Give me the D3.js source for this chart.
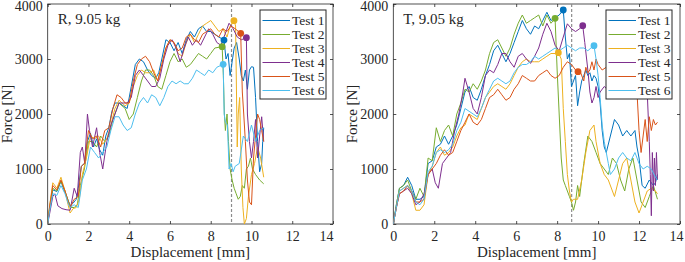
<!DOCTYPE html>
<html>
<head>
<meta charset="utf-8">
<script src="https://cdn.jsdelivr.net/npm/d3@7"></script>
<style>
body { margin: 0; background: #fff; }
text { font-family: "Liberation Serif", "Times New Roman", serif; fill: #262626; }
</style>
</head>
<body>
<svg id="chart" width="685" height="262"></svg>
<script>
// ---- data: [displacement mm, force N] ----
var testNames = ["Test 1", "Test 2", "Test 3", "Test 4", "Test 5", "Test 6"];
var testColors = ["#0072BD", "#77AC30", "#EDB120", "#7E2F8E", "#D95319", "#4DBEEE"];
var xTicks = [0, 2, 4, 6, 8, 10, 12, 14];
var yTicks = [0, 1000, 2000, 3000, 4000];

// R panel
var rTest1 = [[0,0],[0.1,300],[0.25,620],[0.45,590],[0.65,780],[0.8,620],[0.95,480],[1.1,330],[1.25,380],[1.4,450],[1.5,650],[1.65,1050],[1.8,1100],[1.95,1500],[2.1,1650],[2.25,1400],[2.4,1550],[2.55,1350],[2.7,1250],[2.85,1600],[3.0,1750],[3.15,2050],[3.3,2200],[3.5,2200],[3.7,2150],[3.9,2100],[4.1,2500],[4.3,2900],[4.5,3000],[4.7,2950],[4.9,2800],[5.1,2700],[5.3,2650],[5.45,2750],[5.6,3000],[5.8,3350],[6.0,3300],[6.2,3150],[6.4,3300],[6.6,3100],[6.8,3350],[7.0,3500],[7.2,3400],[7.4,3550],[7.6,3600],[7.8,3500],[8.0,3500],[8.2,3450],[8.4,3400],[8.65,3345],[8.75,3000],[8.85,3100],[8.95,2700],[9.05,2950],[9.15,3200],[9.27,3300],[9.4,3000],[9.5,2700],[9.6,2600],[9.7,2800],[9.8,2450],[9.9,2800],[10.0,2860],[10.1,2850],[10.2,2300],[10.3,1500],[10.4,950],[10.5,1100],[10.55,1500],[10.6,1750]];
var rTest2 = [[0,0],[0.1,300],[0.25,650],[0.45,600],[0.65,780],[0.85,600],[1.0,430],[1.15,300],[1.3,300],[1.45,350],[1.6,700],[1.8,1000],[2.0,1500],[2.2,1500],[2.4,1400],[2.6,1600],[2.8,1500],[3.0,1600],[3.2,1900],[3.5,2200],[3.8,2100],[4.0,1900],[4.2,2000],[4.4,2300],[4.6,2600],[4.8,2800],[5.0,2800],[5.2,2700],[5.4,2500],[5.6,2450],[5.8,2700],[6.0,2950],[6.2,3100],[6.4,2950],[6.6,3000],[6.8,2850],[7.0,2900],[7.2,3000],[7.4,3100],[7.6,3050],[7.8,3000],[8.0,3100],[8.2,3200],[8.56,3224],[8.62,2700],[8.67,2000],[8.72,1700],[8.8,2000],[8.87,1500],[8.95,1000],[9.05,800],[9.15,650],[9.25,550],[9.35,450],[9.45,500],[9.55,700],[9.65,650],[9.75,1000],[9.85,1050],[9.95,1200],[10.05,1000],[10.2,900],[10.4,800],[10.6,730]];
var rTest3 = [[0,0],[0.1,350],[0.25,750],[0.45,650],[0.65,850],[0.85,600],[1.0,350],[1.1,200],[1.25,280],[1.4,300],[1.55,450],[1.7,900],[1.9,1200],[2.1,1600],[2.3,1550],[2.5,1600],[2.7,1450],[2.9,1550],[3.1,1800],[3.3,2100],[3.5,2250],[3.8,2150],[4.0,2200],[4.2,2500],[4.4,2700],[4.6,2800],[4.8,2750],[5.0,2750],[5.2,2800],[5.4,2600],[5.6,2900],[5.8,3200],[6.0,3350],[6.2,3300],[6.4,3100],[6.6,3050],[6.8,3300],[7.0,3450],[7.2,3300],[7.4,3450],[7.6,3600],[7.8,3650],[8.0,3700],[8.2,3600],[8.4,3500],[8.6,3550],[8.8,3400],[8.95,3600],[9.14,3697],[9.22,3600],[9.3,1400],[9.35,2000],[9.42,2300],[9.5,1000],[9.58,300],[9.65,0],[9.75,100],[9.85,500],[10.0,900],[10.15,1100],[10.3,1400],[10.45,1200],[10.6,850]];
var rTest4 = [[0,0],[0.1,200],[0.25,500],[0.35,550],[0.5,330],[0.7,280],[0.9,260],[1.1,250],[1.3,650],[1.45,500],[1.6,1300],[1.7,1400],[1.82,1100],[1.95,2000],[2.05,1700],[2.2,1400],[2.4,1750],[2.55,1300],[2.7,1000],[2.9,1500],[3.1,1800],[3.3,2000],[3.5,2200],[3.7,2200],[3.9,2200],[4.1,2300],[4.3,2700],[4.5,2800],[4.7,2700],[4.9,2600],[5.1,2500],[5.3,2500],[5.5,2650],[5.7,3000],[5.9,3250],[6.1,3350],[6.3,3200],[6.5,2950],[6.7,3200],[6.9,3400],[7.1,3250],[7.3,3350],[7.5,3250],[7.7,3400],[7.9,3550],[8.1,3450],[8.3,3300],[8.5,3250],[8.7,3450],[8.9,3650],[9.1,3550],[9.3,3400],[9.5,3350],[9.75,3388],[9.8,2000],[9.9,1500],[10.0,1200],[10.1,1500],[10.2,1900],[10.3,1200],[10.4,1600],[10.5,1950],[10.6,1500]];
var rTest5 = [[0,0],[0.1,330],[0.25,700],[0.45,620],[0.65,800],[0.85,600],[1.0,420],[1.1,300],[1.3,450],[1.5,500],[1.65,1050],[1.8,1100],[2.0,1700],[2.2,1550],[2.4,1600],[2.6,1400],[2.8,1700],[3.0,1750],[3.2,2100],[3.4,2350],[3.6,2300],[3.8,2200],[4.0,2200],[4.2,2600],[4.4,2900],[4.6,3000],[4.8,3050],[5.0,2950],[5.2,2750],[5.4,2600],[5.6,2900],[5.8,3200],[6.0,3350],[6.2,3300],[6.4,3150],[6.6,3200],[6.8,3400],[7.0,3450],[7.2,3350],[7.4,3300],[7.6,3450],[7.8,3500],[8.0,3550],[8.2,3450],[8.4,3400],[8.6,3550],[8.8,3500],[9.0,3600],[9.2,3550],[9.47,3467],[9.55,2400],[9.62,2000],[9.7,1500],[9.8,800],[9.9,400],[10.0,350],[10.1,1200],[10.2,1600],[10.3,2000],[10.4,1900],[10.5,1700],[10.6,1500]];
var rTest6 = [[0,0],[0.1,250],[0.25,550],[0.45,520],[0.65,700],[0.85,550],[1.0,380],[1.1,300],[1.3,350],[1.5,300],[1.7,800],[1.9,1000],[2.1,1400],[2.3,1300],[2.5,1200],[2.7,1300],[2.9,1400],[3.1,1700],[3.3,1950],[3.5,1950],[3.7,1800],[3.9,1700],[4.1,1750],[4.3,2000],[4.5,2200],[4.7,2300],[4.9,2200],[5.1,2350],[5.3,2300],[5.5,2150],[5.7,2300],[5.9,2500],[6.1,2600],[6.3,2550],[6.5,2600],[6.7,2550],[6.9,2550],[7.1,2650],[7.3,2800],[7.5,2750],[7.7,2700],[7.9,2800],[8.1,2750],[8.3,2850],[8.61,2903],[8.66,2000],[8.72,1850],[8.82,1800],[8.9,1000],[9.0,1100],[9.1,950],[9.2,1050],[9.4,1100],[9.6,1600],[9.8,1500],[10.0,1800],[10.2,1500],[10.4,1700],[10.6,1750]];
var rPeakX = [8.65, 8.56, 9.14, 9.75, 9.47, 8.61];
var rPeakY = [3345, 3224, 3697, 3388, 3467, 2903];
var rCut = 9.02;

// T panel
var tTest1 = [[0,0],[0.15,350],[0.3,650],[0.5,700],[0.7,850],[0.9,700],[1.1,450],[1.3,450],[1.5,500],[1.7,1100],[1.9,1150],[2.1,1400],[2.3,1450],[2.5,1600],[2.7,1450],[2.9,1600],[3.1,1800],[3.3,2100],[3.5,2400],[3.7,2500],[3.9,2300],[4.1,2250],[4.3,2450],[4.5,2700],[4.7,2900],[4.9,3150],[5.1,3250],[5.3,3100],[5.5,2950],[5.7,3100],[5.9,3300],[6.1,3500],[6.3,3700],[6.5,3550],[6.7,3450],[6.9,3600],[7.1,3550],[7.3,3700],[7.5,3850],[7.7,3700],[7.9,3750],[8.1,3800],[8.3,3891],[8.4,3400],[8.5,3000],[8.6,3100],[8.7,2500],[8.8,2600],[8.9,2700],[9.0,2150],[9.1,2400],[9.2,2600],[9.3,2700],[9.4,2800],[9.5,2700],[9.6,2750],[9.7,2600],[9.8,2700],[9.9,2650],[10.0,2500],[10.1,2200],[10.2,1700],[10.3,1400],[10.4,1300],[10.6,1600],[10.8,1900],[11.0,1800],[11.2,1600],[11.4,1700],[11.6,1600],[11.8,1700],[11.9,1400],[12.0,1200],[12.15,700],[12.3,650],[12.5,800],[12.7,700],[12.8,750],[12.9,900]];
var tTest2 = [[0,0],[0.15,350],[0.3,650],[0.5,700],[0.7,800],[0.9,600],[1.1,450],[1.3,650],[1.5,500],[1.7,1200],[1.9,1150],[2.1,1750],[2.3,1500],[2.5,1700],[2.7,1800],[2.9,1600],[3.1,2000],[3.3,2200],[3.5,2450],[3.7,2400],[3.9,2550],[4.1,2450],[4.3,2600],[4.5,2800],[4.7,3100],[4.9,3300],[5.1,3350],[5.3,3200],[5.5,3050],[5.7,3200],[5.9,3450],[6.1,3650],[6.3,3800],[6.5,3650],[6.7,3700],[6.9,3750],[7.1,3800],[7.3,3600],[7.5,3800],[7.7,3650],[7.9,3740],[8.0,2800],[8.1,2000],[8.2,1200],[8.3,800],[8.4,700],[8.5,600],[8.6,500],[8.7,400],[8.8,250],[8.9,400],[9.0,700],[9.1,500],[9.3,1100],[9.5,1600],[9.7,1500],[9.9,1300],[10.1,1100],[10.3,1000],[10.5,900],[10.7,1200],[10.9,1100],[11.1,800],[11.3,600],[11.5,1000],[11.7,1200],[11.9,800],[12.1,400],[12.3,300],[12.5,500],[12.7,700],[12.9,450]];
var tTest3 = [[0,0],[0.15,300],[0.3,600],[0.5,650],[0.7,700],[0.9,550],[1.1,250],[1.3,250],[1.5,350],[1.7,900],[1.9,1050],[2.1,1300],[2.3,1400],[2.5,1250],[2.7,1300],[2.9,1400],[3.1,1600],[3.3,1750],[3.5,1800],[3.7,2000],[3.9,1950],[4.1,1900],[4.3,2100],[4.5,2300],[4.7,2400],[4.9,2500],[5.1,2550],[5.3,2500],[5.5,2450],[5.7,2550],[5.9,2700],[6.1,2850],[6.3,2950],[6.5,3000],[6.7,2950],[6.9,2950],[7.1,2950],[7.3,3000],[7.5,3050],[7.7,3100],[7.9,3100],[8.06,3115],[8.2,3000],[8.3,2100],[8.4,1500],[8.5,900],[8.6,600],[8.7,400],[8.8,450],[9.0,450],[9.2,800],[9.4,1300],[9.6,1700],[9.8,1800],[9.9,1500],[10.1,1100],[10.3,900],[10.5,800],[10.7,600],[10.8,500],[11.0,800],[11.2,1100],[11.4,1200],[11.6,800],[11.8,400],[12.0,200],[12.2,400],[12.4,600],[12.6,650],[12.8,600],[12.9,550]];
var tTest4 = [[0,0],[0.15,300],[0.3,550],[0.5,600],[0.7,650],[0.9,550],[1.1,350],[1.3,400],[1.5,550],[1.7,900],[1.9,1000],[2.05,750],[2.2,650],[2.4,1100],[2.6,1200],[2.8,1300],[3.0,1700],[3.2,2000],[3.4,2400],[3.5,2650],[3.7,2400],[3.9,2100],[4.1,2000],[4.3,2300],[4.5,2700],[4.7,2800],[4.9,2750],[5.1,2900],[5.3,3100],[5.5,3100],[5.7,2950],[5.9,2850],[6.1,3050],[6.3,3100],[6.5,3000],[6.7,2920],[6.9,3050],[7.1,3200],[7.3,3450],[7.5,3650],[7.7,3500],[7.9,3250],[8.1,3150],[8.3,3400],[8.5,3640],[8.7,3550],[8.9,3500],[9.1,3550],[9.25,3606],[9.35,3300],[9.5,2800],[9.6,2400],[9.7,2200],[9.8,2300],[9.9,2500],[10.0,2300],[10.1,2400],[10.3,2500],[10.6,2400],[11.0,2500],[11.5,2600],[12.0,2500],[12.4,2400],[12.5,1500],[12.55,900],[12.6,150],[12.65,1300],[12.7,600],[12.75,1200],[12.8,700],[12.85,1300],[12.9,800]];
var tTest5 = [[0,0],[0.15,300],[0.3,550],[0.5,600],[0.7,700],[0.9,600],[1.1,400],[1.3,400],[1.5,450],[1.7,900],[1.9,1000],[2.1,1100],[2.3,1250],[2.5,1350],[2.7,1250],[2.9,1300],[3.1,1500],[3.3,1700],[3.5,1850],[3.7,2000],[3.9,1850],[4.1,1800],[4.3,1900],[4.5,2100],[4.7,2300],[4.9,2350],[5.1,2450],[5.3,2350],[5.5,2250],[5.7,2300],[5.9,2450],[6.1,2550],[6.3,2700],[6.5,2650],[6.7,2600],[6.9,2600],[7.1,2700],[7.3,2750],[7.5,2800],[7.7,2700],[7.9,2650],[8.1,2700],[8.3,2850],[8.5,2950],[8.7,2900],[8.9,2800],[9.02,2770],[9.1,2800],[9.3,2600],[9.4,2850],[9.5,2750],[9.6,2800],[9.7,2950],[9.8,2800],[9.9,3000],[10.0,2900],[10.2,2800],[10.4,2850],[10.8,2800],[11.2,2750],[11.6,2700],[11.9,2400],[12.0,1700],[12.1,1300],[12.2,1600],[12.3,1900],[12.4,1500],[12.5,1950],[12.6,1700],[12.7,1900],[12.8,1800],[12.9,1850]];
var tTest6 = [[0,0],[0.15,300],[0.3,600],[0.5,650],[0.7,700],[0.9,600],[1.1,400],[1.3,350],[1.5,450],[1.7,950],[1.9,1050],[2.1,1300],[2.3,1350],[2.5,1300],[2.7,1350],[2.9,1450],[3.1,1700],[3.3,1850],[3.5,2100],[3.7,2050],[3.9,2000],[4.1,1950],[4.3,2100],[4.5,2300],[4.7,2450],[4.9,2600],[5.1,2650],[5.3,2600],[5.5,2550],[5.7,2600],[5.9,2750],[6.1,2850],[6.3,2900],[6.5,2900],[6.7,2950],[6.9,3050],[7.1,3000],[7.3,3050],[7.5,3100],[7.7,3150],[7.9,3200],[8.1,3150],[8.3,3200],[8.5,3250],[8.7,3200],[8.9,3150],[9.1,3200],[9.3,3200],[9.5,3150],[9.65,3200],[9.8,3243],[9.9,3000],[10.0,2700],[10.1,2300],[10.2,1800],[10.3,1500],[10.4,1300],[10.5,1100],[10.6,900],[10.8,1000],[11.0,1200],[11.2,1300],[11.4,1200],[11.6,1150],[11.8,1300],[12.0,1100],[12.2,1000],[12.4,1050],[12.6,1000],[12.8,850],[12.9,800]];
var tPeakX = [8.30, 7.90, 8.06, 9.25, 9.02, 9.80];
var tPeakY = [3891, 3740, 3115, 3606, 2770, 3243];
var tCut = 8.71;

// ---- drawing ----
var svg = d3.select("#chart");
var serif = "'Liberation Serif', 'Times New Roman', serif";

function drawPanel(id, box, label, series, peakX, peakY, cutX) {
    var x = d3.scaleLinear().domain([0, 14]).range([box.left, box.right]);
    var y = d3.scaleLinear().domain([0, 4000]).range([box.bottom, box.top]);
    var g = svg.append("g").attr("id", id);

    g.append("clipPath").attr("id", id + "-clip")
        .append("rect")
        .attr("x", box.left).attr("y", box.top)
        .attr("width", box.right - box.left).attr("height", box.bottom - box.top);

    // ticks inside, on all four sides (matlab box style)
    var xAx = g.append("g")
        .attr("transform", "translate(0," + box.bottom + ")")
        .call(d3.axisBottom(x).tickValues(xTicks).tickSizeInner(-3).tickSizeOuter(0).tickPadding(7).tickFormat(d3.format("d")));
    var yAx = g.append("g")
        .attr("transform", "translate(" + box.left + ",0)")
        .call(d3.axisLeft(y).tickValues(yTicks).tickSizeInner(-3).tickSizeOuter(0).tickPadding(5).tickFormat(d3.format("d")));
    g.append("g")
        .attr("transform", "translate(0," + box.top + ")")
        .call(d3.axisTop(x).tickValues(xTicks).tickSizeInner(-3).tickSizeOuter(0).tickFormat(""));
    g.append("g")
        .attr("transform", "translate(" + box.right + ",0)")
        .call(d3.axisRight(y).tickValues(yTicks).tickSizeInner(-3).tickSizeOuter(0).tickFormat(""));

    g.selectAll(".domain").remove();
    g.selectAll(".tick line").attr("stroke", "#262626").attr("stroke-width", 0.8);
    g.selectAll(".tick text")
        .attr("fill", "#262626")
        .style("font-family", serif)
        .style("font-size", "14px");
    // last x label is pulled in so it stays on the page
    xAx.selectAll(".tick text").filter(d => d === 14)
        .attr("text-anchor", "end").attr("x", box.lastDx);
    // top y label nudged down so it is not cut at the page edge
    yAx.selectAll(".tick text").filter(d => d === 4000)
        .attr("dy", "0.45em");

    g.append("rect")
        .attr("x", box.left).attr("y", box.top)
        .attr("width", box.right - box.left).attr("height", box.bottom - box.top)
        .attr("fill", "none").attr("stroke", "#262626").attr("stroke-width", 0.8);

    // axis titles
    g.append("text")
        .attr("x", (box.left + box.right) / 2).attr("y", 257)
        .attr("text-anchor", "middle").style("font-size", "15px")
        .text("Displacement [mm]");
    g.append("text")
        .attr("transform", "rotate(-90)")
        .attr("x", -(box.top + box.bottom) / 2).attr("y", box.left - 36)
        .attr("text-anchor", "middle").style("font-size", "15px")
        .text("Force [N]");

    var plot = g.append("g").attr("clip-path", "url(#" + id + "-clip)");

    // dashed vertical reference line
    plot.append("line")
        .attr("x1", x(cutX)).attr("x2", x(cutX))
        .attr("y1", box.top).attr("y2", box.bottom)
        .attr("stroke", "#8c8c8c").attr("stroke-width", 1.2)
        .attr("stroke-dasharray", "3,2");

    var line = d3.line().x(d => x(d[0])).y(d => y(d[1]));
    series.forEach(function(s, i) {
        plot.append("path")
            .datum(s)
            .attr("d", line)
            .attr("fill", "none")
            .attr("stroke", testColors[i])
            .attr("stroke-width", 1)
            .attr("stroke-linejoin", "round");
    });

    plot.selectAll(".peak")
        .data(peakX)
        .enter()
        .append("circle")
            .classed("peak", true)
            .attr("cx", d => x(d))
            .attr("cy", (d, i) => y(peakY[i]))
            .attr("r", 3.4)
            .attr("fill", (d, i) => testColors[i]);

    g.append("text")
        .attr("x", box.left + 10).attr("y", 24)
        .style("font-size", "15px")
        .text(label);

    // legend (white box hides the lines under it)
    var lg = g.append("g").attr("transform", "translate(" + (box.right - box.legendGap - 66) + ",10)");
    lg.append("rect")
        .attr("width", 66).attr("height", 89)
        .attr("fill", "#fff").attr("stroke", "#262626").attr("stroke-width", 1);
    testNames.forEach(function(n, i) {
        var yy = 10.5 + i * 14;
        lg.append("line")
            .attr("x1", 2.5).attr("x2", 30)
            .attr("y1", yy).attr("y2", yy)
            .attr("stroke", testColors[i]).attr("stroke-width", 1);
        lg.append("text")
            .attr("x", 32).attr("y", yy + 4.5)
            .style("font-size", "13.5px")
            .text(n);
    });
}

drawPanel("panelR", {left: 47.7, right: 333, top: 4, bottom: 224, lastDx: 0, legendGap: 7},
    "R, 9.05 kg", [rTest1, rTest2, rTest3, rTest4, rTest5, rTest6], rPeakX, rPeakY, rCut);
drawPanel("panelT", {left: 393.3, right: 680, top: 4, bottom: 224, lastDx: 3, legendGap: 8},
    "T, 9.05 kg", [tTest1, tTest2, tTest3, tTest4, tTest5, tTest6], tPeakX, tPeakY, tCut);
</script>
</body>
</html>
